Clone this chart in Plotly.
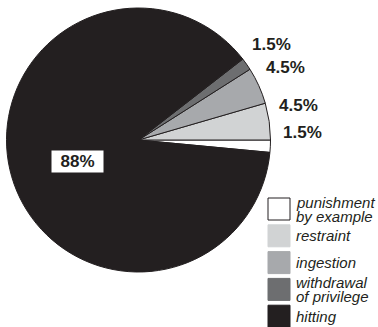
import math
import plotly.graph_objects as go

categories = ["punishment<br>by example", "restraint", "ingestion", "withdrawal<br>of privilege", "hitting"]
legend_lines = [["punishment", "by example"], ["restraint"], ["ingestion"], ["withdrawal", "of privilege"], ["hitting"]]
values = [1.5, 4.5, 4.5, 1.5, 88]
labels_txt = ["1.5%", "4.5%", "4.5%", "1.5%", "88%"]
colors = ["#ffffff", "#d1d3d4", "#a7a9ac", "#6d6e70", "#231f20"]

W, H = 378, 327
cx, cy, R = 138.5, 140.0, 132.0
ink = "#231f20"

fig = go.Figure(go.Pie(
    labels=categories, values=values, sort=False, direction="counterclockwise",
    rotation=90, textinfo="none", hoverinfo="skip", showlegend=False,
    marker=dict(colors=colors, line=dict(color=ink, width=1)),
    domain=dict(x=[(cx - R) / W, (cx + R) / W], y=[1 - (cy + R) / H, 1 - (cy - R) / H]),
))

def px(x, y):
    return x / W, 1 - y / H

total = sum(values)
cum = 0.0
annotations = []
for v, t in zip(values, labels_txt):
    mid = (cum + v / 2) / total * 360.0
    cum += v
    if v < 50:
        a = math.radians(mid * 0.87 + 0.3)
        r = R + 32
        x, y = px(cx + r * math.cos(a), cy - r * math.sin(a))
        annotations.append(dict(x=x, y=y, xref="paper", yref="paper", text="<b>" + t + "</b>",
                                showarrow=False, xanchor="center", yanchor="middle",
                                font=dict(family="Liberation Sans, Arial", size=17, color=ink)))
    else:
        a = math.radians(mid - 2.5)
        r = R * 0.49
        x, y = px(cx + r * math.cos(a), cy - r * math.sin(a))
        annotations.append(dict(x=x, y=y, xref="paper", yref="paper", text="<b>" + t + "</b>",
                                showarrow=False, xanchor="center", yanchor="middle",
                                bgcolor="white", width=51, height=21, borderpad=0,
                                font=dict(family="Liberation Sans, Arial", size=17, color=ink)))

# custom legend
shapes = []
box_x0, box_size, pitch, top = 268, 22, 26.8, 198
for i, (lines, c) in enumerate(zip(legend_lines, colors)):
    y0 = top + i * pitch
    x0p, y0p = px(box_x0, y0)
    x1p, y1p = px(box_x0 + box_size, y0 + box_size)
    shapes.append(dict(type="rect", xref="paper", yref="paper", x0=x0p, x1=x1p, y0=y1p, y1=y0p,
                       fillcolor=c, line=dict(color=ink if c == "#ffffff" else c, width=1)))
    yc = y0 + box_size / 2
    if len(lines) == 1:
        offs = [0]
    else:
        offs = [-7, 7]
    for ln, o in zip(lines, offs):
        x, y = px(box_x0 + box_size + 4, yc + o)
        annotations.append(dict(x=x, y=y, xref="paper", yref="paper", text="<i>" + ln + "</i>",
                                showarrow=False, xanchor="left", yanchor="middle",
                                font=dict(family="Liberation Sans, Arial", size=15, color=ink)))

fig.update_layout(width=W, height=H, margin=dict(l=0, r=0, t=0, b=0),
                  paper_bgcolor="white", plot_bgcolor="white",
                  annotations=annotations, shapes=shapes, showlegend=False)
fig.write_html("out.html", config={"displayModeBar": False},
               post_script="document.body.style.margin='0';document.body.style.overflow='hidden';")
